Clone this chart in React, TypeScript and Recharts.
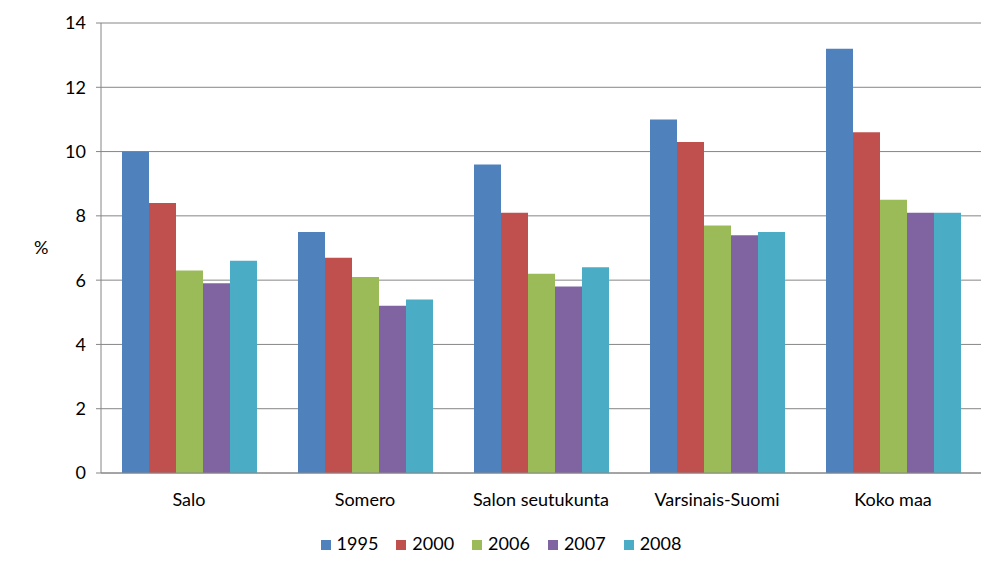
import { BarChart, Bar, XAxis, YAxis, CartesianGrid, Legend } from 'recharts';

const regions = ['Salo', 'Somero', 'Salon seutukunta', 'Varsinais-Suomi', 'Koko maa'];
const years = ['1995', '2000', '2006', '2007', '2008'];
const v1995 = [10.0, 7.5, 9.6, 11.0, 13.2];
const v2000 = [8.4, 6.7, 8.1, 10.3, 10.6];
const v2006 = [6.3, 6.1, 6.2, 7.7, 8.5];
const v2007 = [5.9, 5.2, 5.8, 7.4, 8.1];
const v2008 = [6.6, 5.4, 6.4, 7.5, 8.1];
const yTicks = [0, 2, 4, 6, 8, 10, 12, 14];
const boundaryTicks = [0, 1, 2, 3, 4, 5];

const colors = ['#4F81BD', '#C0504D', '#9BBB59', '#8064A2', '#4BACC6'];
const series = [v1995, v2000, v2006, v2007, v2008];

const data = regions.map((name, i) => {
  const row: Record<string, string | number> = { name };
  years.forEach((y, j) => {
    row[y] = series[j][i];
  });
  return row;
});

const font = 'Lato, sans-serif';
const gray = '#868686';
const fs = 18;

export default function App() {
  return (
    <div style={{ position: 'absolute', left: 0, top: 0, fontFamily: font, fontSize: fs }}>
      <BarChart
        width={1004}
        height={576}
        data={data}
        margin={{ top: 23, right: 23, bottom: 63, left: 0 }}
        barCategoryGap={21}
        barGap={0}
        style={{ fontSize: fs, fontFamily: font }}
      >
        <CartesianGrid vertical={false} stroke={gray} strokeWidth={1} />
        <XAxis
          xAxisId="edges"
          type="number"
          dataKey={() => 0}
          domain={[0, 5]}
          ticks={boundaryTicks}
          tick={false}
          tickSize={6}
          height={0}
          axisLine={false}
          tickLine={{ stroke: gray }}
        />
        <XAxis
          dataKey="name"
          height={40}
          axisLine={{ stroke: gray }}
          tickLine={false}
          tickSize={6}
          tickMargin={14}
          fontSize={fs}
          tick={{ fill: '#000', fontSize: fs, fontFamily: font }}
        />
        <YAxis
          width={101}
          domain={[0, 14]}
          ticks={yTicks}
          axisLine={{ stroke: gray }}
          tickLine={{ stroke: gray }}
          tickSize={5}
          tickMargin={10}
          fontSize={fs}
          tick={{ fill: '#000', fontSize: fs, fontFamily: font }}
          label={{ value: '%', position: 'insideLeft', offset: 34, angle: 0, fill: '#000', fontSize: fs, fontFamily: font }}
        />
        <Legend
          verticalAlign="middle"
          align="center"
          layout="horizontal"
          iconType="square"
          iconSize={10}
          wrapperStyle={{ top: 532, left: 8, width: 1004, fontSize: fs, fontFamily: font }}
          formatter={(value: string) => (
            <span style={{ color: '#000', fontSize: fs, marginLeft: 2, marginRight: 8 }}>{value}</span>
          )}
        />
        {years.map((y, j) => (
          <Bar key={y} dataKey={y} fill={colors[j]} isAnimationActive={false} />
        ))}
      </BarChart>
    </div>
  );
}
